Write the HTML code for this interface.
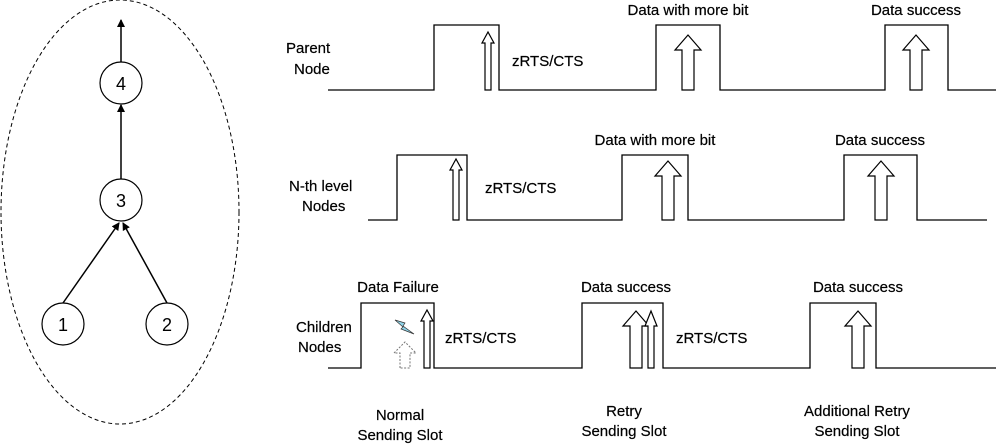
<!DOCTYPE html>
<html><head><style>body{margin:0;background:#fff}svg{display:block}</style></head><body>
<svg width="1000" height="445" xmlns="http://www.w3.org/2000/svg" font-family="Liberation Sans, Arial, sans-serif" font-size="15" fill="#000">
<defs>
<marker id="ah" markerWidth="8" markerHeight="8" refX="7" refY="4" orient="auto" markerUnits="userSpaceOnUse"><path d="M0,0 L8,4 L0,8 z" fill="#000"/></marker>
</defs>
<ellipse cx="120" cy="212" rx="119" ry="212" fill="none" stroke="#000" stroke-dasharray="4,3" stroke-width="1"/>
<line x1="121" y1="62" x2="121" y2="20" stroke="#000" stroke-width="1.5" marker-end="url(#ah)"/>
<line x1="121" y1="179" x2="121" y2="105" stroke="#000" stroke-width="1.5" marker-end="url(#ah)"/>
<line x1="63" y1="303" x2="119" y2="223" stroke="#000" stroke-width="1.5" marker-end="url(#ah)"/>
<line x1="167" y1="303" x2="123" y2="223" stroke="#000" stroke-width="1.5" marker-end="url(#ah)"/>
<g fill="#fff" stroke="#000" stroke-width="1.2">
<circle cx="121" cy="83" r="21"/><circle cx="121" cy="200" r="21"/><circle cx="63" cy="324" r="21"/><circle cx="167" cy="324" r="21"/>
</g>
<g font-size="18" text-anchor="middle">
<text x="121" y="90">4</text><text x="121" y="207">3</text><text x="63" y="331">1</text><text x="167" y="331">2</text>
</g>
<g fill="none" stroke="#000" stroke-width="1.3">
<polyline points="328,90 434,90 434,25 499,25 499,90 656,90 656,25 720,25 720,90 885,90 885,25 948,25 948,90 996,90"/>
<polyline points="368,220 397,220 397,155 467,155 467,220 622,220 622,155 688,155 688,220 844,220 844,155 917,155 917,220 987,220"/>
<polyline points="328,368 361,368 361,303 434,303 434,368 582,368 582,303 663,303 663,368 810,368 810,303 876,303 876,368 996,368"/>
</g>
<g fill="#fff" stroke="#000" stroke-width="1.2">
<path d="M485,90 L485,43 L482,43 L488,32 L494,43 L491,43 L491,90 z"/>
<path d="M682,90 L682,50 L675,50 L688,35 L701,50 L694,50 L694,90 z"/>
<path d="M910,90 L910,50 L903,50 L916,35 L929,50 L922,50 L922,90 z"/>
<path d="M453,220 L453,170 L450,170 L456,159 L462,170 L459,170 L459,220 z"/>
<path d="M662,220 L662,176 L655,176 L668,161 L681,176 L674,176 L674,220 z"/>
<path d="M875,220 L875,176 L868,176 L881,161 L894,176 L887,176 L887,220 z"/>
<path d="M424,368 L424,321 L421,321 L427,310 L433,321 L430,321 L430,368 z"/>
<path d="M630,368 L630,326 L623,326 L636,311 L649,326 L642,326 L642,368 z"/>
<path d="M648,368 L648,326 L645,326 L651,311 L657,326 L654,326 L654,368 z"/>
<path d="M852,368 L852,326 L845,326 L858,311 L871,326 L864,326 L864,368 z"/>
</g>
<path d="M400,368 L400,353 L394,353 L405,342 L416,353 L410,353 L410,368 z" fill="none" stroke="#777" stroke-width="1" stroke-dasharray="2,1.5"/>
<path d="M395,320 L405,323 L403,326 L414,334 L401,329 L403,327 L395,320 z" fill="#8fd3e8" stroke="#333" stroke-width="0.7"/>
<g stroke="#000" stroke-width="0.2">
<text x="286" y="53">Parent</text><text x="294" y="74">Node</text>
<text x="512" y="66">zRTS/CTS</text>
<text x="688" y="15" text-anchor="middle">Data with more bit</text>
<text x="916" y="15" text-anchor="middle">Data success</text>
<text x="289" y="191">N-th level</text><text x="302" y="211">Nodes</text>
<text x="485" y="193">zRTS/CTS</text>
<text x="655" y="145" text-anchor="middle">Data with more bit</text>
<text x="880" y="145" text-anchor="middle">Data success</text>
<text x="296" y="332">Children</text><text x="298" y="352">Nodes</text>
<text x="398" y="292" text-anchor="middle">Data Failure</text>
<text x="445" y="343">zRTS/CTS</text>
<text x="626" y="292" text-anchor="middle">Data success</text>
<text x="676" y="343">zRTS/CTS</text>
<text x="858" y="292" text-anchor="middle">Data success</text>
<text x="400" y="420" text-anchor="middle">Normal</text><text x="400" y="440" text-anchor="middle">Sending Slot</text>
<text x="624" y="416" text-anchor="middle">Retry</text><text x="624" y="436" text-anchor="middle">Sending Slot</text>
<text x="857" y="416" text-anchor="middle">Additional Retry</text><text x="857" y="436" text-anchor="middle">Sending Slot</text>
</g>
</svg>
</body></html>
